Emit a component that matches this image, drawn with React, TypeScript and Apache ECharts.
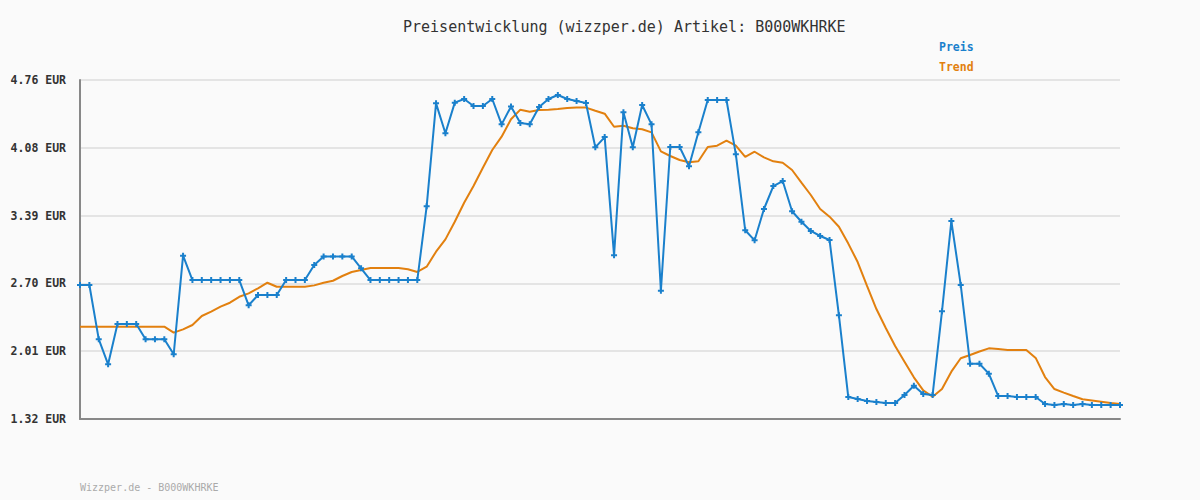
import React, { useEffect, useRef } from "react";
import * as echarts from "echarts";

const BASE = 1.32;
const Y_STEP = 0.688;
const yTickLabels = ["1.32 EUR", "2.01 EUR", "2.70 EUR", "3.39 EUR", "4.08 EUR", "4.76 EUR"];

const preis = [
  2.68, 2.68, 2.13, 1.875, 2.284, 2.284, 2.284, 2.13, 2.13, 2.13,
  1.977, 2.977, 2.73, 2.73, 2.73, 2.73, 2.73, 2.73, 2.474, 2.578,
  2.578, 2.578, 2.73, 2.73, 2.73, 2.883, 2.97, 2.97, 2.97, 2.97,
  2.849, 2.73, 2.73, 2.73, 2.73, 2.73, 2.73, 3.478, 4.523, 4.219,
  4.53, 4.567, 4.496, 4.496, 4.567, 4.31, 4.49, 4.324, 4.31, 4.486,
  4.567, 4.608, 4.567, 4.547, 4.527, 4.077, 4.181, 2.981, 4.432, 4.077,
  4.506, 4.31, 2.622, 4.08, 4.08, 3.884, 4.229, 4.557, 4.557, 4.557,
  4.006, 3.235, 3.133, 3.451, 3.684, 3.735, 3.428, 3.322, 3.228, 3.177,
  3.136, 2.372, 1.543, 1.523, 1.503, 1.493, 1.482, 1.482, 1.564, 1.658,
  1.574, 1.564, 2.413, 3.329, 2.68, 1.881, 1.881, 1.78, 1.553, 1.553,
  1.543, 1.543, 1.543, 1.472, 1.462, 1.472, 1.462, 1.472, 1.462, 1.462,
  1.462, 1.462,
];

const trend = [
  2.257, 2.257, 2.257, 2.257, 2.257, 2.257, 2.257, 2.257, 2.257, 2.257,
  2.196, 2.23, 2.274, 2.365, 2.409, 2.46, 2.5, 2.56, 2.595, 2.646,
  2.703, 2.662, 2.662, 2.662, 2.662, 2.676, 2.703, 2.723, 2.771, 2.812,
  2.832, 2.852, 2.852, 2.852, 2.852, 2.84, 2.812, 2.865, 3.018, 3.143,
  3.322, 3.515, 3.684, 3.87, 4.05, 4.185, 4.361, 4.459, 4.438, 4.455,
  4.459, 4.466, 4.476, 4.48, 4.48, 4.448, 4.418, 4.286, 4.296, 4.27,
  4.26, 4.229, 4.036, 3.989, 3.948, 3.925, 3.935, 4.08, 4.093, 4.144,
  4.093, 3.979, 4.032, 3.975, 3.935, 3.921, 3.847, 3.718, 3.593, 3.451,
  3.373, 3.271, 3.1, 2.913, 2.67, 2.436, 2.243, 2.06, 1.901, 1.743,
  1.611, 1.546, 1.624, 1.8, 1.936, 1.97, 2.005, 2.037, 2.03, 2.02,
  2.02, 2.02, 1.94, 1.746, 1.624, 1.588, 1.553, 1.52, 1.508, 1.495,
  1.482, 1.472,
];

const categories = preis.map((_, i) => String(i + 1));

const BLUE = "#1a80cc";
const ORANGE = "#e2800f";
const FONT = "DejaVu Sans Mono";

export default function App() {
  const ref = useRef<HTMLDivElement>(null);
  useEffect(() => {
    if (!ref.current) return;
    const chart = echarts.init(ref.current, undefined, { renderer: "svg" });
    chart.setOption({
      animation: false,
      backgroundColor: "#fafafa",
      title: {
        text: "Preisentwicklung (wizzper.de) Artikel: B000WKHRKE",
        left: 403,
        top: 19,
        padding: 0,
        textStyle: { fontFamily: FONT, fontSize: 15, fontWeight: "normal", color: "#333" },
      },
      grid: { left: 80, right: 80, top: 80, bottom: 81, containLabel: false },
      xAxis: {
        type: "category",
        data: categories,
        boundaryGap: false,
        axisLine: { show: true, lineStyle: { color: "#888", width: 2 } },
        axisTick: { show: false },
        axisLabel: { show: false },
        splitLine: { show: false },
      },
      yAxis: {
        type: "value",
        min: 0,
        max: Y_STEP * 5,
        interval: Y_STEP,
        axisLine: { show: true, lineStyle: { color: "#888", width: 2 } },
        axisTick: { show: false },
        axisLabel: {
          margin: 14,
          fontFamily: FONT,
          fontSize: 11.5,
          fontWeight: "bold",
          color: "#333",
          formatter: (_v: number, idx: number) => yTickLabels[idx] ?? "",
        },
        splitLine: { show: true, lineStyle: { color: "#e4e4e4", width: 2 } },
      },
      graphic: [
        { type: "text", left: 939, top: 41, style: { text: "Preis", fill: BLUE, font: `bold 11.5px '${FONT}'` } },
        { type: "text", left: 939, top: 61, style: { text: "Trend", fill: ORANGE, font: `bold 11.5px '${FONT}'` } },
        { type: "text", left: 80, top: 482, style: { text: "Wizzper.de - B000WKHRKE", fill: "#aaa", font: `10px '${FONT}'` } },
      ],
      series: [
        {
          name: "Trend",
          type: "line",
          data: trend.map((v) => v - BASE),
          showSymbol: false,
          symbol: "none",
          lineStyle: { color: ORANGE, width: 2 },
          z: 2,
        },
        {
          name: "Preis",
          type: "line",
          data: preis.map((v) => v - BASE),
          symbol: "path://M2,0H4V2H6V4H4V6H2V4H0V2H2Z",
          symbolSize: 6,
          itemStyle: { color: BLUE },
          lineStyle: { color: BLUE, width: 2 },
          z: 3,
        },
      ],
    });
    return () => chart.dispose();
  }, []);
  return (
    <div
      ref={ref}
      style={{ position: "fixed", left: 0, top: 0, width: 1200, height: 500, background: "#fafafa" }}
    />
  );
}
